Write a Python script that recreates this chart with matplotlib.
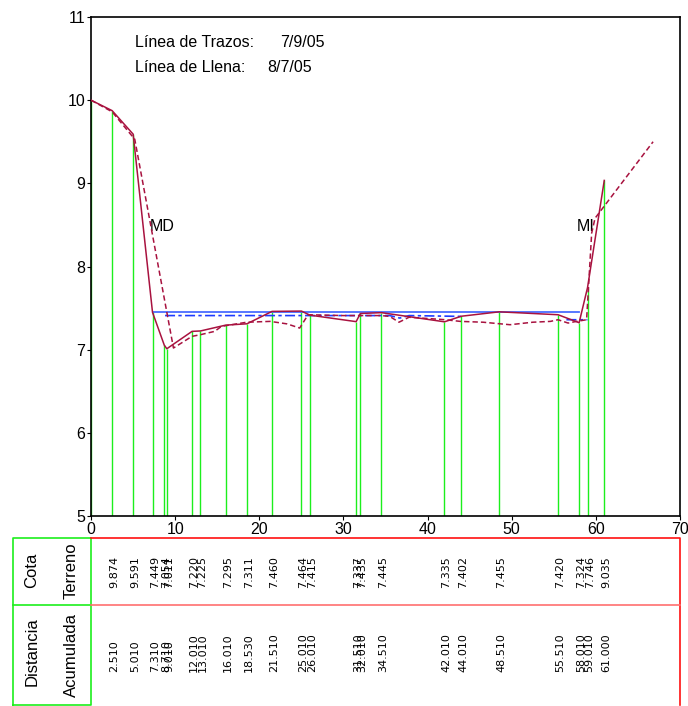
import numpy as np
import matplotlib.pyplot as plt
import matplotlib.transforms as mtransforms

plt.rcParams['font.family'] = ['Liberation Sans', 'DejaVu Sans']

# perfil 8/7/05 (terreno)
dist = [2.510, 5.010, 7.310, 8.710, 9.010, 12.010, 13.010, 16.010, 18.530, 21.510,
        25.010, 26.010, 31.510, 32.010, 34.510, 42.010, 44.010, 48.510, 55.510,
        58.010, 59.010, 61.000]
cota = [9.874, 9.591, 7.449, 7.054, 7.011, 7.220, 7.225, 7.295, 7.311, 7.460,
        7.464, 7.415, 7.337, 7.435, 7.445, 7.335, 7.402, 7.455, 7.420,
        7.324, 7.746, 9.035]
x_inicio, z_inicio = 0.0, 10.0

# perfil 7/9/05 (linea de trazos)
trazos_x = [0, 2.51, 5.2, 9.8, 12.0, 13.0, 14.7, 15.5, 18.5, 21.3, 23.3, 24.8, 25.8,
            30.0, 34.5, 35.5, 36.6, 37.8, 40.7, 42.1, 43.9, 46.6, 49.8, 52.5, 54.6,
            55.5, 56.7, 57.7, 58.9, 59.5, 59.9, 66.8]
trazos_y = [10.0, 9.86, 9.53, 7.02, 7.16, 7.18, 7.22, 7.28, 7.33, 7.34, 7.31, 7.26, 7.42,
            7.41, 7.41, 7.40, 7.33, 7.39, 7.37, 7.36, 7.34, 7.33, 7.30, 7.33, 7.34,
            7.36, 7.32, 7.34, 7.36, 8.40, 8.58, 9.50]

# niveles de agua
agua_llena_x = [7.31, 58.01]
agua_llena_y = [7.449, 7.449]
agua_trazos_x = [8.8, 35.5, 36.7, 37.8, 44.0, np.nan, 56.5, 59.0]
agua_trazos_y = [7.41, 7.41, 7.38, 7.41, 7.40, np.nan, 7.36, 7.36]

fig = plt.figure(figsize=(6.88, 7.06), dpi=100)
W, H = 688, 706
ax = fig.add_axes([91 / W, (H - 516) / H, 589 / W, 499 / H])

rojo = '#a8123f'
verde = '#1cef1c'

ax.vlines([x_inicio] + dist, 5, [z_inicio] + cota, color=verde, lw=1.0, zorder=2)
ax.plot(agua_llena_x, agua_llena_y, color='#4a6cff', lw=1.3, zorder=3)
ax.plot(agua_trazos_x, agua_trazos_y, color='#1f3cff', lw=1.2,
        linestyle=(0, (6, 2, 2, 2)), zorder=3)
ax.plot([x_inicio] + dist, [z_inicio] + cota, color=rojo, lw=1.1, zorder=4)
ax.plot(trazos_x, trazos_y, color=rojo, lw=1.1, linestyle=(0, (3.5, 2)), zorder=4)

ax.text(5.2, 10.69, 'Línea de Trazos:', fontsize=11.5, va='center')
ax.text(22.5, 10.69, '7/9/05', fontsize=11.5, va='center')
ax.text(5.2, 10.39, 'Línea de Llena:', fontsize=11.5, va='center')
ax.text(21.0, 10.39, '8/7/05', fontsize=11.5, va='center')
ax.text(7.0, 8.48, 'MD', fontsize=11.5, va='center')
ax.text(59.8, 8.48, 'MI', fontsize=11.5, va='center', ha='right')

ax.set_xlim(0, 70)
ax.set_ylim(5, 11)
ax.set_xticks(range(0, 71, 10))
ax.set_yticks(range(5, 12))
ax.tick_params(direction='out', length=3, pad=1, labelsize=11.5)
for s in ax.spines.values():
    s.set_linewidth(1.2)

# tabla inferior
tab = fig.add_axes([0, 0, 1, 1], facecolor='none')
tab.set_xlim(0, W)
tab.set_ylim(H, 0)
tab.axis('off')

tab.plot([12.5, 91, 91, 12.5, 12.5], [705, 705, 538, 538, 705], color=verde, lw=1.2)
tab.plot([12.5, 91], [605, 605], color=verde, lw=1.2)
tab.plot([91, 680, 680], [538, 538, 705], color='#ff1010', lw=1.2)
tab.plot([91, 680], [605, 605], color='#ff7070', lw=1.2)

tab.text(32, 570, 'Cota', rotation=90, fontsize=12, ha='center', va='center')
tab.text(71, 571, 'Terreno', rotation=90, fontsize=12, ha='center', va='center')
tab.text(32, 652, 'Distancia', rotation=90, fontsize=12, ha='center', va='center')
tab.text(71, 655, 'Acumulada', rotation=90, fontsize=12, ha='center', va='center')

trans = mtransforms.blended_transform_factory(ax.transData, tab.transData)
for d, z in zip(dist, cota):
    tab.text(d + 0.25, 588, f'{z:.3f}', rotation=90, fontsize=8, family='DejaVu Sans',
             ha='center', va='bottom', transform=trans)
    tab.text(d + 0.25, 672, f'{d:.3f}', rotation=90, fontsize=8, family='DejaVu Sans',
             ha='center', va='bottom', transform=trans)

fig.savefig('out.png', dpi=100)
